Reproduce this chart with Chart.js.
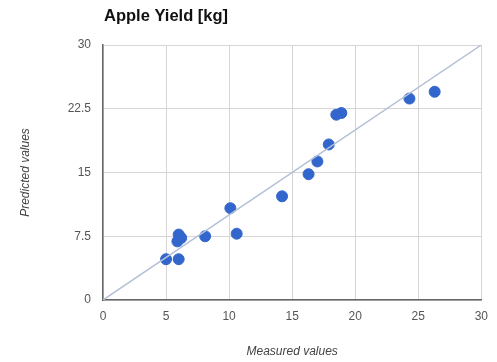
<!DOCTYPE html>
<html>
<head>
<meta charset="utf-8">
<script src="https://cdn.jsdelivr.net/npm/chart.js@4"></script>
<style>
  html, body { margin: 0; padding: 0; background: #fff; }
  #wrap { width: 497px; height: 362px; }
</style>
</head>
<body>
<div id="wrap"><canvas id="chart" width="497" height="362"></canvas></div>
<script>
// ======== Data ========
const measured  = [5.0, 6.0, 5.9, 6.0, 6.2, 8.1, 10.6, 10.1, 14.2, 16.3, 17.0, 17.9, 18.5, 18.9, 24.3, 26.3];
const predicted = [4.8, 4.8, 6.9, 7.7, 7.3, 7.5, 7.8, 10.8, 12.2, 14.8, 16.3, 18.3, 21.8, 22.0, 23.7, 24.5];
const xTicks = [0, 5, 10, 15, 20, 25, 30];
const yTicks = [0, 7.5, 15, 22.5, 30];
const chartTitle = 'Apple Yield [kg]';
const xTitle = 'Measured values';
const yTitle = 'Predicted values';

const points = measured.map((x, i) => ({ x: x, y: predicted[i] }));
const ideal = [{ x: xTicks[0], y: yTicks[0] }, { x: xTicks[xTicks.length - 1], y: yTicks[yTicks.length - 1] }];

// titulo alinhado com a area do grafico
const titlePlugin = {
  id: 'leftTitle',
  afterDraw(c) {
    const ctx = c.ctx;
    ctx.save();
    ctx.font = 'bold 16.5px "Liberation Sans", Arial, sans-serif';
    ctx.fillStyle = '#111';
    ctx.textBaseline = 'middle';
    ctx.fillText(chartTitle, c.chartArea.left + 1, 16);
    ctx.restore();
  }
};

const tickFont = { size: 12, family: '"Liberation Sans", Arial' };
const axisTitleFont = { size: 12, style: 'italic', family: '"Liberation Sans", Arial' };

const ctx = document.getElementById('chart').getContext('2d');
const chart = new Chart(ctx, {
  type: 'scatter',
  data: {
    datasets: [
      {
        type: 'line',
        data: ideal,
        borderColor: '#b4c0d8',
        borderWidth: 1.5,
        pointRadius: 0,
        fill: false,
      },
      {
        data: points,
        backgroundColor: '#3366cc',
        borderColor: '#3366cc',
        pointRadius: 5.5,
        pointHoverRadius: 5.5,
      },
    ],
  },
  options: {
    responsive: false,
    animation: false,
    layout: { padding: { left: 12, right: 15, top: 45, bottom: 0 } },
    plugins: { legend: { display: false }, tooltip: { enabled: false } },
    scales: {
      x: {
        type: 'linear',
        min: 0, max: 30,
        afterBuildTicks: (s) => { s.ticks = xTicks.map(v => ({ value: v })); },
        afterFit: (s) => { s.height = 62; },
        grid: { color: '#d6d6d6', drawTicks: false },
        border: { color: '#666', width: 1.5 },
        ticks: { padding: 9, color: '#555', font: tickFont },
        title: {
          display: true, text: xTitle, color: '#444',
          font: axisTitleFont,
          padding: { top: 0, bottom: 3 },
        },
      },
      y: {
        type: 'linear',
        min: 0, max: 30,
        afterBuildTicks: (s) => { s.ticks = yTicks.map(v => ({ value: v })); },
        afterFit: (s) => { s.width = 91; },
        grid: { color: '#d6d6d6', drawTicks: false },
        border: { color: '#666', width: 1.5 },
        ticks: { padding: 12, color: '#555', font: tickFont },
        title: {
          display: true, text: yTitle, color: '#444',
          font: axisTitleFont,
          padding: { top: 6, bottom: 0 },
        },
      },
    },
  },
  plugins: [titlePlugin],
});
</script>
</body>
</html>
